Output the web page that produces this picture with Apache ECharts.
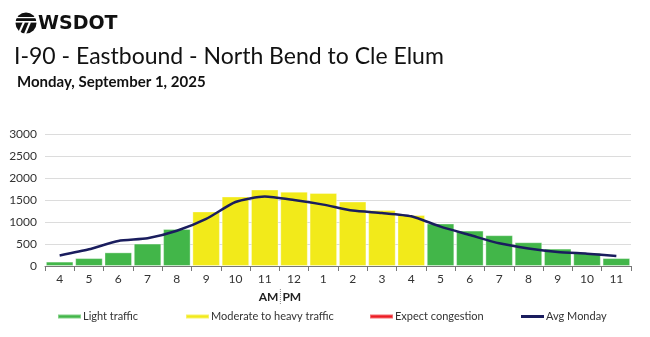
<!DOCTYPE html>
<html><head><meta charset="utf-8">
<script src="https://cdn.jsdelivr.net/npm/echarts@6/dist/echarts.min.js"></script>
<style>html,body{margin:0;padding:0;background:#fff}#c{width:650px;height:337px}</style>
</head><body><div id="c"></div>
<script>
const hours = ['4','5','6','7','8','9','10','11','12','1','2','3','4','5','6','7','8','9','10','11'];
const volumes = [100,180,310,510,840,1240,1580,1740,1690,1660,1465,1275,1160,965,805,700,540,395,300,180];
const trafficLevel = ['light','light','light','light','light','moderate','moderate','moderate','moderate','moderate','moderate','moderate','moderate','light','light','light','light','light','light','light'];
const avgMonday = [240,380,570,630,800,1070,1455,1580,1500,1395,1260,1205,1130,895,705,515,400,320,280,230];
const yTicks = [0,500,1000,1500,2000,2500,3000];
const titleText = 'I-90 - Eastbound - North Bend to Cle Elum';
const subtitleText = 'Monday, September 1, 2025';
const levelNames = {light:'Light traffic', moderate:'Moderate to heavy traffic', heavy:'Expect congestion'};
const levelColors = {light:'#42b649', moderate:'#f2ea1a', heavy:'#ed1c24'};
const lineName = 'Avg Monday';

const chart = echarts.init(document.getElementById('c'));
const F = 'Lato, "Noto Sans", sans-serif';
const barSeries = ['light','moderate','heavy'].map(lv => ({
  type:'bar', name: levelNames[lv], stack:'v', barCategoryGap:'6%',
  itemStyle:{color:levelColors[lv], borderColor:'rgba(255,255,255,0.35)', borderWidth:1},
  data: volumes.map((v,i) => trafficLevel[i]===lv ? v : null)
}));
const legendPos = [57,185,369,521];
const legendNames = [levelNames.light, levelNames.moderate, levelNames.heavy, lineName];
const baseGraphic = [
  {id:'c1', type:'circle', shape:{cx:26, cy:23, r:10.5}, style:{fill:'#111'}},
  {id:'r1', type:'rect', shape:{x:15, y:21, width:23, height:1.6}, style:{fill:'#fff'}},
  {id:'r2', type:'rect', shape:{x:15, y:17, width:23, height:1.2}, style:{fill:'#fff'}},
  {id:'p1', type:'polyline', shape:{points:[[24,22],[19,33]]}, style:{stroke:'#fff', lineWidth:2}},
  {id:'p2', type:'polyline', shape:{points:[[30,22],[25,34]]}, style:{stroke:'#fff', lineWidth:2}},
  {id:'t0', type:'text', left:38, top:15, style:{text:'WSDOT', font:'bold 19px "DejaVu Sans", sans-serif', fill:'#111'}},
  {id:'t1', type:'text', left:14, top:45, style:{text:titleText, font:'23px Lato, sans-serif', fill:'#111'}},
  {id:'t2', type:'text', left:17, top:75, style:{text:subtitleText, font:'bold 15px Lato, sans-serif', fill:'#111'}}
];
chart.setOption({
  animation:false,
  textStyle:{fontFamily:F},
  grid:{left:45,right:19,top:134,bottom:71},
  legend: legendNames.map((n,i)=>({
    data:[{name:n,icon:'rect'}], left:legendPos[i], top:311, padding:0,
    itemWidth:23, itemHeight:i<3?4:3, itemGap:0, selectedMode:false,
    textStyle:{fontSize:11, color:'#333', fontFamily:F, padding:[0,0,0,-3]}
  })),
  xAxis:{type:'category', data:hours, boundaryGap:true,
    axisLine:{lineStyle:{color:'#777', width:1}},
    axisTick:{show:true, alignWithLabel:false, length:5, lineStyle:{color:'#777'}},
    axisLabel:{fontSize:12, color:'#333', margin:7, fontFamily:F}},
  yAxis:{type:'value', min:yTicks[0], max:yTicks[yTicks.length-1], interval:yTicks[1]-yTicks[0],
    axisLabel:{fontSize:12, color:'#333', margin:8, fontFamily:F, formatter:v=>String(v)},
    splitLine:{lineStyle:{color:'#dcdcdc'}}},
  series: barSeries.concat([{
    type:'line', name:lineName, data:avgMonday, smooth:0.2, symbol:'none',
    lineStyle:{color:'#1a1d5e', width:2.5}, itemStyle:{color:'#1a1d5e'}, z:5
  }]),
  graphic: baseGraphic
});
// AM | PM marker at the boundary between 11 and 12
const pa = chart.convertToPixel({xAxisIndex:0}, 7);
const pb = chart.convertToPixel({xAxisIndex:0}, 8);
const mid = (pa+pb)/2 + 1;
chart.setOption({graphic: baseGraphic.concat([
  {id:'am', type:'text', x:mid-2, y:297, style:{text:'AM', font:'bold 12px Lato, sans-serif', fill:'#222', align:'right', verticalAlign:'middle'}},
  {id:'pm', type:'text', x:mid+2, y:297, style:{text:'PM', font:'bold 12px Lato, sans-serif', fill:'#222', align:'left', verticalAlign:'middle'}},
  {id:'sep', type:'line', shape:{x1:mid, y1:289, x2:mid, y2:305}, style:{stroke:'#888', lineWidth:1, lineDash:[1,1]}}
])});
</script></body></html>
